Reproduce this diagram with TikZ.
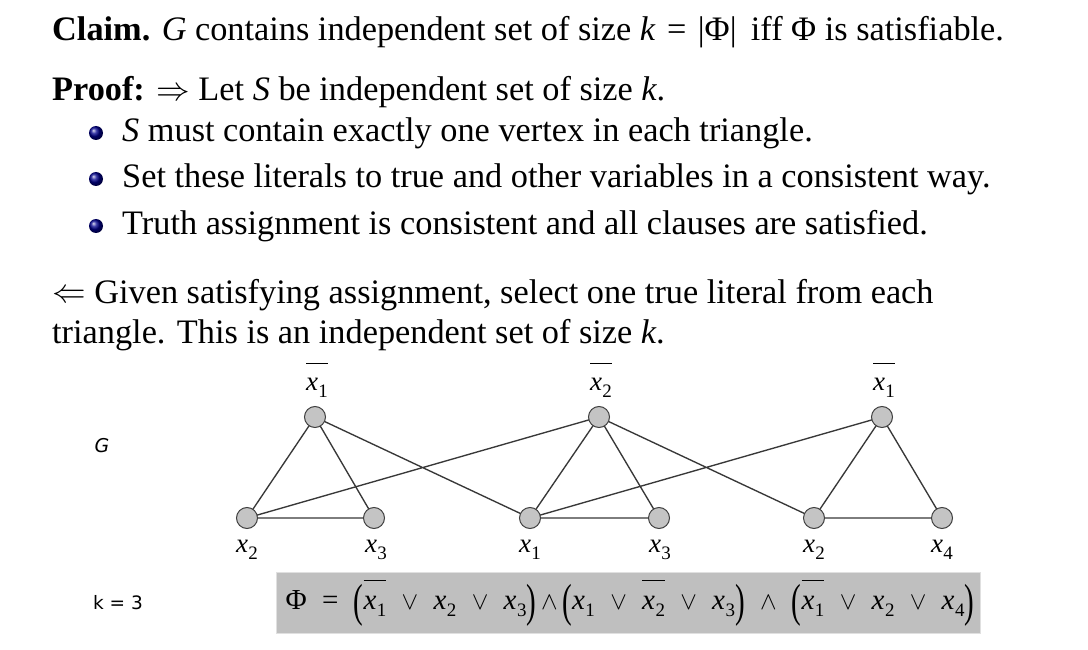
\documentclass[tikz,border=0pt]{standalone}
\usepackage{fontspec}
\setmainfont{Liberation Serif}
\newfontfamily\serifit{Liberation Serif}
\newfontfamily\gfont{DejaVu Sans}
\newfontfamily\kfont{DejaVu Sans}
\usepackage{graphicx}
\newcommand\vx[1]{{\serifit\itshape x}\kern0.5pt\raisebox{-0.25em}{\serifit\upshape\fontsize{19}{20}\selectfont #1}}
\newcommand\nx[1]{$\overline{\rule{0pt}{0.95em}\hbox{\vx{#1}}}$}
\newcommand\bigp[1]{\raisebox{-0.25em}{\scalebox{1}[1.6]{#1}}}
\newcommand\bigarr[1]{\raisebox{0.02em}{\scalebox{1.35}{$#1$}}}
\tikzset{
  txt/.style={anchor=base west, inner sep=0pt, font=\fontsize{34.3}{40}\selectfont},
  vert/.style={circle, draw=black!75, fill=black!23, line width=1pt, minimum size=21pt, inner sep=0pt},
  edge/.style={draw=black!78, line width=1.35pt},
  lbl/.style={inner sep=0pt, font=\serifit\fontsize{27}{30}\selectfont},
  bul/.style={circle, inner sep=0pt, minimum size=14pt, shading=ball, ball color=blue!55!black}
}
\begin{document}
\begin{tikzpicture}[x=1pt,y=-1pt]
\useasboundingbox (0,0) rectangle (1088,650);
\fill[white] (0,0) rectangle (1088,650);
% text
\node[txt] (claim) at (52,41) {\textbf{Claim.} \textit{G} contains independent set of size \textit{k}\,\,=\,\,|Φ|\, iff Φ is satisfiable.};
\node[txt] (proof) at (52,101) {\textbf{Proof:} \bigarr{\Rightarrow} Let \textit{S} be independent set of size \textit{k}.};
\node[bul] (b1) at (96,133) {};
\node[bul] (b2) at (96,179) {};
\node[bul] (b3) at (96,226) {};
\node[txt] (l1) at (122,142) {\textit{S} must contain exactly one vertex in each triangle.};
\node[txt] (l2) at (122,188) {Set these literals to true and other variables in a consistent way.};
\node[txt] (l3) at (122,235) {Truth assignment is consistent and all clauses are satisfied.};
\node[txt] (r1) at (52,303) {\bigarr{\Leftarrow} Given satisfying assignment, select one true literal from each};
\node[txt] (r2) at (52,343) {triangle. This is an independent set of size \textit{k}.};
% side labels
\node[inner sep=0pt, font=\gfont\itshape\fontsize{19}{20}\selectfont] (G) at (102,446) {G};
\node[inner sep=0pt, font=\kfont\fontsize{18.5}{20}\selectfont] (k) at (118,603) {k = 3};
% edges first (behind vertices)
\coordinate (A1) at (315,417); \coordinate (A2) at (247,518); \coordinate (A3) at (374,518);
\coordinate (C1) at (599,417); \coordinate (C2) at (530,518); \coordinate (C3) at (659,518);
\coordinate (D1) at (882,417); \coordinate (D2) at (814,518); \coordinate (D3) at (942,518);
\draw[edge] (A1) -- (A2) (A1) -- (A3) (A2) -- (A3);
\draw[edge] (C1) -- (C2) (C1) -- (C3) (C2) -- (C3);
\draw[edge] (D1) -- (D2) (D1) -- (D3) (D2) -- (D3);
\draw[edge] (A1) -- (C2) (A2) -- (C1) (C1) -- (D2) (C2) -- (D1);
% vertices
\node[vert] (a1) at (A1) {};
\node[vert] (a2) at (A2) {};
\node[vert] (a3) at (A3) {};
\node[vert] (c1) at (C1) {};
\node[vert] (c2) at (C2) {};
\node[vert] (c3) at (C3) {};
\node[vert] (d1) at (D1) {};
\node[vert] (d2) at (D2) {};
\node[vert] (d3) at (D3) {};
% labels
\node[lbl] (la1) at (317,380) {\nx{1}};
\node[lbl] (la2) at (247,550) {\vx{2}};
\node[lbl] (la3) at (376,550) {\vx{3}};
\node[lbl] (lc1) at (601,380) {\nx{2}};
\node[lbl] (lc2) at (530,550) {\vx{1}};
\node[lbl] (lc3) at (660,550) {\vx{3}};
\node[lbl] (ld1) at (884,380) {\nx{1}};
\node[lbl] (ld2) at (814,550) {\vx{2}};
\node[lbl] (ld3) at (942,550) {\vx{4}};
% formula box
\node[fill=black!25, draw=black!12, line width=0.8pt, minimum width=704pt, minimum height=61pt, inner sep=0pt] (box) at (628,602.5) {};
\node[inner sep=0pt, font=\serifit\fontsize{29}{32}\selectfont] (phi) at (630,603) {Φ \;=\; \bigp{(}\nx{1} \;$\vee$\; \vx{2} \;$\vee$\; \vx{3}\bigp{)}\,$\wedge$\,\bigp{(}\vx{1} \;$\vee$\; \nx{2} \;$\vee$\; \vx{3}\bigp{)} \;$\wedge$\; \bigp{(}\nx{1} \;$\vee$\; \vx{2} \;$\vee$\; \vx{4}\bigp{)}};
\end{tikzpicture}
\end{document}
